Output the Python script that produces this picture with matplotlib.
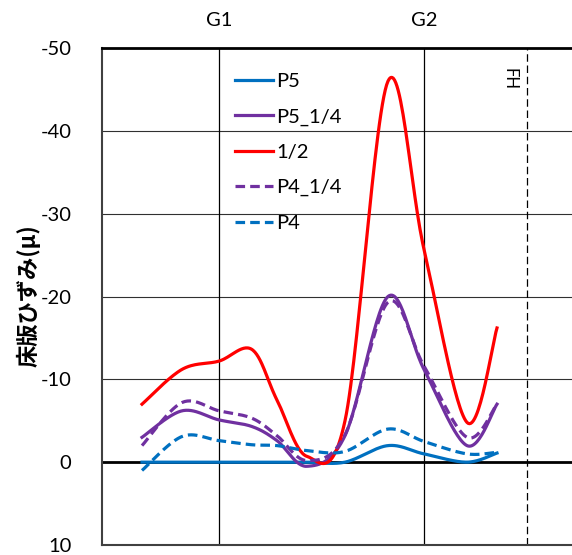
import numpy as np
import matplotlib.pyplot as plt

# measurement positions (G1 = 117, G2 = 322, FH = 425)
pos = [40, 80, 117, 150, 175, 205, 243, 286, 322, 365, 395]
p5 = [0.0, 0.0, 0.0, 0.0, 0.0, 0.0, 0.0, -2.0, -1.0, 0.0, -1.1]
p5_14 = [-3.0, -6.2, -5.1, -4.3, -2.6, 0.5, -3.2, -20.0, -11.2, -2.0, -7.0]
half = [-7.0, -11.2, -12.2, -13.6, -7.5, -0.7, -5.0, -46.0, -25.7, -4.8, -16.2]
p4_14 = [-2.0, -7.2, -6.2, -5.3, -3.2, -0.2, -3.3, -19.3, -11.6, -3.0, -7.0]
p4 = [1.0, -3.1, -2.6, -2.1, -2.0, -1.4, -1.3, -4.0, -2.5, -1.0, -1.2]

girders = {'G1': 117, 'G2': 322}
fh = 425
yticks = [-50, -40, -30, -20, -10, 0, 10]


def smooth(x, y, n=30):
    # excel style smoothed line: bezier through points
    P = np.column_stack([x, y]).astype(float)
    out = []
    for i in range(len(P) - 1):
        p0 = P[i - 1] if i > 0 else P[i]
        p1, p2 = P[i], P[i + 1]
        p3 = P[i + 2] if i + 2 < len(P) else P[i + 1]
        c1 = p1 + (p2 - p0) / 6
        c2 = p2 - (p3 - p1) / 6
        t = np.linspace(0, 1, n)[:, None]
        seg = ((1 - t) ** 3 * p1 + 3 * (1 - t) ** 2 * t * c1
               + 3 * (1 - t) * t ** 2 * c2 + t ** 3 * p2)
        out.append(seg if i == 0 else seg[1:])
    out = np.vstack(out)
    return out[:, 0], out[:, 1]


plt.rcParams['font.family'] = ['Lato', 'DejaVu Sans']
plt.rcParams['axes.unicode_minus'] = False

fig = plt.figure(figsize=(5.72, 5.55), dpi=100)
ax = fig.add_axes([102 / 572, 1 - 545 / 555, 1 - 102 / 572, (545 - 48) / 555])

ax.set_xlim(0, 470)
ax.set_ylim(10, -50)
ax.set_yticks(yticks)
ax.set_xticks([])
ax.tick_params(axis='y', length=0, labelsize=14.5, pad=22)

for v in yticks[1:-1]:
    if v == 0:
        ax.axhline(v, color='black', lw=2, zorder=1)
    else:
        ax.axhline(v, color='#303030', lw=0.8, zorder=1)

for name, xv in girders.items():
    ax.axvline(xv, color='black', lw=0.9, zorder=1)
    ax.text(xv, -52.3, name, ha='center', va='bottom', fontsize=14.5)
ax.axvline(fh, color='black', lw=0.9, ls=(0, (6, 3)), zorder=1)
ax.text(fh - 17, -46.3, 'FH', rotation=270, ha='center', va='center', fontsize=12)

series = [
    ('P5', p5, '#0070C0', '-'),
    ('P5_1/4', p5_14, '#7030A0', '-'),
    ('1/2', half, '#FF0000', '-'),
    ('P4_1/4', p4_14, '#7030A0', (0, (3, 1.6))),
    ('P4', p4, '#0070C0', (0, (3, 1.6))),
]
for label, vals, col, ls in series:
    sx, sy = smooth(pos, vals)
    ax.plot(sx, sy, color=col, lw=2.3, ls=ls, label=label, zorder=3)

leg = ax.legend(loc='upper left', bbox_to_anchor=(125 / 470, 1 - 17 / 497),
                frameon=False, fontsize=14.5, handlelength=1.9,
                handletextpad=0.15, labelspacing=0.9, borderaxespad=0)

ax.spines['right'].set_visible(False)
ax.spines['top'].set_linewidth(2)
ax.spines['left'].set_linewidth(1.5)
ax.spines['left'].set_color('#404040')
ax.spines['bottom'].set_linewidth(1.5)
ax.spines['bottom'].set_color('#404040')

fig.text(28 / 572, 1 - 296 / 555, '床版ひずみ(μ)', rotation=90, ha='center',
         va='center', fontsize=16, fontweight='bold',
         family=['Noto Sans CJK JP', 'DejaVu Sans'])

fig.savefig('out.png', dpi=100)
